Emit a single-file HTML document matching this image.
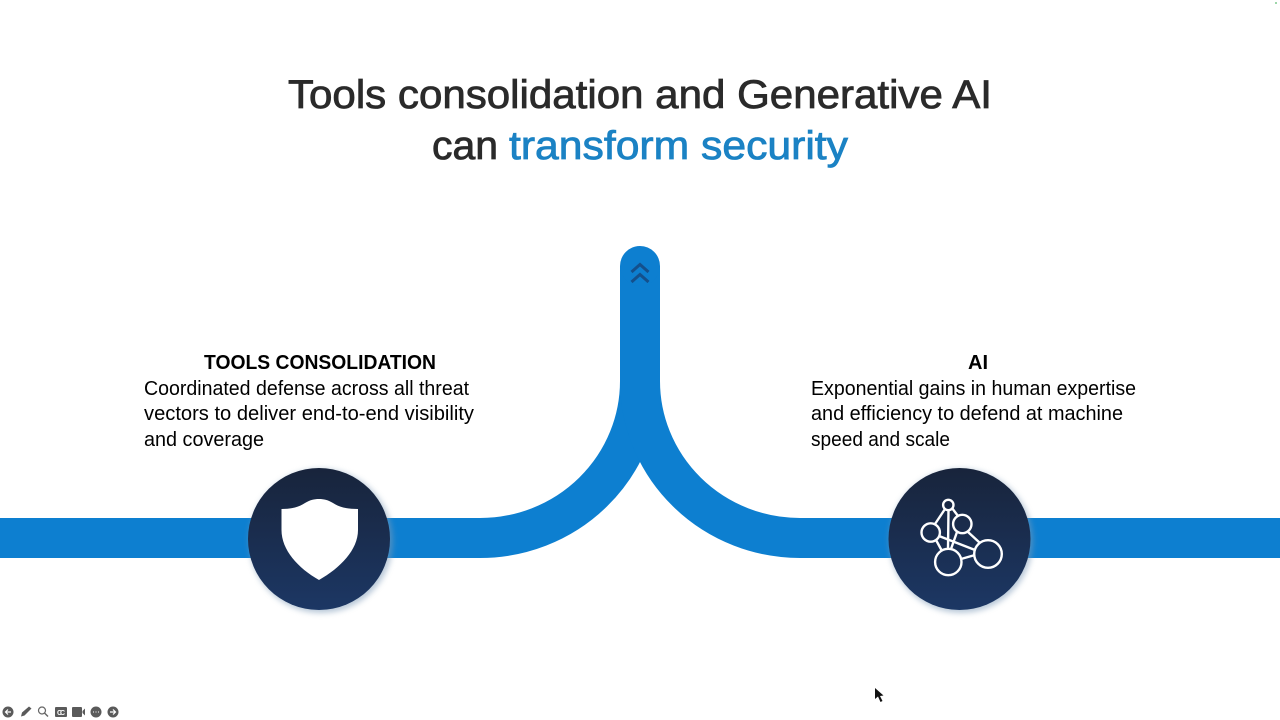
<!DOCTYPE html>
<html><head><meta charset="utf-8"><style>
html,body{margin:0;padding:0;background:#fff;width:1280px;height:720px;overflow:hidden}
svg{display:block}
text{font-family:"Liberation Sans",sans-serif}
</style></head><body>
<svg width="1280" height="720" viewBox="0 0 1280 720" xmlns="http://www.w3.org/2000/svg">
<defs>
<linearGradient id="g" x1="0" y1="0" x2="0" y2="1"><stop offset="0" stop-color="#18243b"/><stop offset="1" stop-color="#1c3764"/></linearGradient>
<filter id="s" x="-20%" y="-20%" width="140%" height="140%"><feGaussianBlur stdDeviation="3"/></filter>
<filter id="b" x="-5%" y="-5%" width="110%" height="110%"><feGaussianBlur stdDeviation="0.35"/></filter>
</defs>
<rect width="1280" height="720" fill="#fff"/>
<g filter="url(#b)">
<g fill="#2b2b2b" stroke="#2b2b2b" stroke-width="0.8" font-size="40">
<text x="288" y="108" textLength="704" lengthAdjust="spacingAndGlyphs">Tools consolidation and Generative AI</text>
<text x="432" y="159" textLength="66" lengthAdjust="spacingAndGlyphs">can</text>
</g>
<text x="509" y="159" font-size="40" fill="#1a82c4" stroke="#1a82c4" stroke-width="0.8" textLength="339" lengthAdjust="spacingAndGlyphs">transform security</text>
</g>

<g fill="none" stroke="#0d7fd0" stroke-width="40">
<path d="M0 538H480A160 157 0 0 0 640 381V266"/>
<path d="M1280 538H800A160 157 0 0 1 640 381V266"/>
</g>
<circle cx="640" cy="266" r="20" fill="#0d7fd0"/>
<path d="M631.500 272L640 264.500L648.500 272M631.500 282L640 274.500L648.500 282" fill="none" stroke="#14508c" stroke-width="3"/>

<circle cx="321" cy="541" r="72" fill="#7f9bb8" opacity=".55" filter="url(#s)"/>
<circle cx="961" cy="541" r="72" fill="#7f9bb8" opacity=".55" filter="url(#s)"/>
<circle cx="319" cy="539" r="71" fill="url(#g)"/>
<circle cx="959.500" cy="539" r="71" fill="url(#g)"/>

<path d="M281.500 509C292 509 299 507 305 503C310 500 314 499 319 499C324 499 328 500 333 503C339 507 346 509 358 509V530C358 550 340 568 319 580C298 568 281.500 550 281.500 530Z" fill="#fff"/>

<g fill="none" stroke="#fff" stroke-width="2.400">
<path d="M945 509L935 524M952 508L958 516M948.500 510L948 549M936 540L942 551M939 536L975 550M968 532L980 543M957 532L951 549M961 559L975 555"/>
<circle cx="948.300" cy="505" r="5.200"/>
<circle cx="930.700" cy="532.500" r="9.200"/>
<circle cx="962.300" cy="524" r="9.200"/>
<circle cx="948.300" cy="562" r="13.200"/>
<circle cx="988" cy="554" r="13.800"/>
</g>

<g fill="#000" font-size="20" filter="url(#b)">
<text x="204" y="369" font-weight="bold" textLength="232" lengthAdjust="spacingAndGlyphs">TOOLS CONSOLIDATION</text>
<text x="144" y="395" textLength="325" lengthAdjust="spacingAndGlyphs">Coordinated defense across all threat</text>
<text x="144" y="420" textLength="330" lengthAdjust="spacingAndGlyphs">vectors to deliver end-to-end visibility</text>
<text x="144" y="446" textLength="120" lengthAdjust="spacingAndGlyphs">and coverage</text>
<text x="968" y="369" font-weight="bold" textLength="20" lengthAdjust="spacingAndGlyphs">AI</text>
<text x="811" y="395" textLength="325" lengthAdjust="spacingAndGlyphs">Exponential gains in human expertise</text>
<text x="811" y="420" textLength="312" lengthAdjust="spacingAndGlyphs">and efficiency to defend at machine</text>
<text x="811" y="446" textLength="139" lengthAdjust="spacingAndGlyphs">speed and scale</text>
</g>

<path d="M875 688L875 699L878 696.500L880.500 702L882.500 701L880 696L883.500 695.500Z" fill="#111"/>
<circle cx="1276" cy="3" r="1" fill="#7fc98f"/>

<g filter="url(#b)">
<g fill="#5a5a5a">
<circle cx="8" cy="712" r="5.500"/><path d="M11 712H6M8 709.500L5.500 712L8 714.500" stroke="#fff" stroke-width="1.200" fill="none"/>
<path d="M21 716.500L22 712.500L29 706.500L31.500 708.500L24.500 715.500Z"/>
<circle cx="42" cy="710.500" r="3.500" fill="none" stroke="#666" stroke-width="1.200"/><path d="M44.500 713L48 716.500" stroke="#666" stroke-width="1.400"/>
<rect x="55" y="707" width="12" height="10" rx="1"/>
<rect x="72" y="707" width="10" height="10" rx="1"/><path d="M82.500 711L85 708.500V715.500L82.500 713Z"/>
<circle cx="96" cy="712" r="5.500"/><path d="M93 712h1M95.500 712h1M98 712h1" stroke="#fff"/>
<circle cx="113" cy="712" r="5.500"/><path d="M110 712H115M113 709.500L115.500 712L113 714.500" stroke="#fff" stroke-width="1.200" fill="none"/>
</g>
<text x="57" y="715" font-size="7" font-weight="bold" fill="#fff" textLength="8">CC</text>
</g>
</svg>
</body></html>
